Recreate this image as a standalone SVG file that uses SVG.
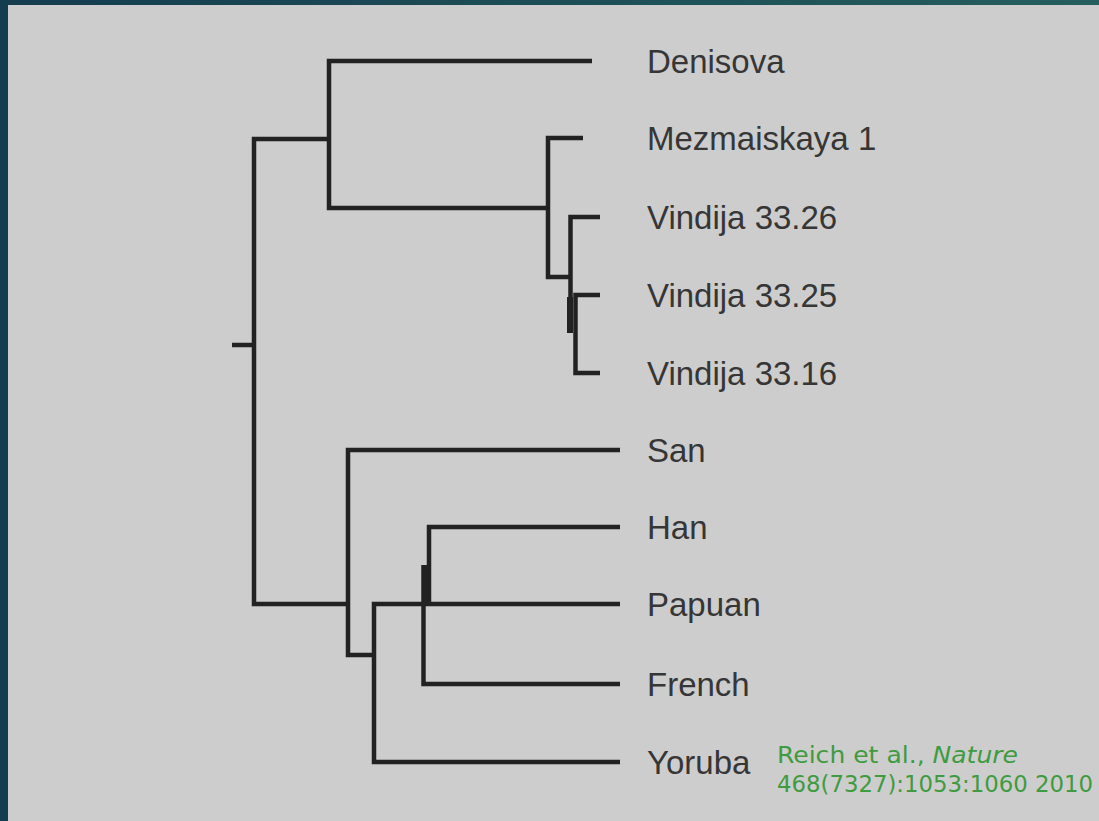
<svg xmlns="http://www.w3.org/2000/svg" width="1099" height="821" viewBox="0 0 1099 821">
<defs>
<linearGradient id="frame" x1="0" y1="0" x2="1" y2="0">
<stop offset="0" stop-color="#143d4f"/>
<stop offset="1" stop-color="#265e5e"/>
</linearGradient>
<style>
.br{fill:none;stroke:#222;stroke-width:4.5;stroke-linecap:butt;stroke-linejoin:miter}
.lbl{font-family:"Liberation Sans",Arial,sans-serif;font-size:33px;fill:#363636}
.ref{font-family:"DejaVu Sans",Verdana,sans-serif;font-size:23px;fill:#3f9b3f}
</style>
</defs>
<rect x="0" y="0" width="1099" height="821" fill="url(#frame)"/>
<rect x="8" y="5" width="1091" height="816" fill="#cdcdcd"/>
<g id="connectors">
<path class="br" d="M232 345 H254"/>
<path class="br" d="M329 139 H254 V604 H348"/>
<path class="br" d="M592 61 H329 V208 H548"/>
<path class="br" d="M583 138 H548 V277 H571"/>
<path class="br" d="M600 217 H570.5 V333"/>
<path class="br" d="M600 295 H575.5 V373 H600"/>
<path class="br" d="M570 297 V333" style="stroke-width:6"/>
<path class="br" d="M620 450 H348 V655 H374"/>
<path class="br" d="M620 762 H374 V604 H620"/>
<path class="br" d="M620 527 H429 V604"/>
<path class="br" d="M620 684 H423.5 V565"/>
<path class="br" d="M426 565 V604" style="stroke-width:6"/>
</g>
<g id="node-denisova"><text class="lbl" x="647" y="73">Denisova</text></g>
<g id="node-mezmaiskaya"><text class="lbl" x="647" y="150">Mezmaiskaya 1</text></g>
<g id="node-vindija3326"><text class="lbl" x="647" y="229">Vindija 33.26</text></g>
<g id="node-vindija3325"><text class="lbl" x="647" y="307">Vindija 33.25</text></g>
<g id="node-vindija3316"><text class="lbl" x="647" y="385">Vindija 33.16</text></g>
<g id="node-san"><text class="lbl" x="647" y="462">San</text></g>
<g id="node-han"><text class="lbl" x="647" y="539">Han</text></g>
<g id="node-papuan"><text class="lbl" x="647" y="616">Papuan</text></g>
<g id="node-french"><text class="lbl" x="647" y="696">French</text></g>
<g id="node-yoruba"><text class="lbl" x="647" y="774">Yoruba</text></g>
<g id="citation">
<text class="ref" x="777" y="763" textLength="241" lengthAdjust="spacingAndGlyphs">Reich et al., <tspan font-style="italic">Nature</tspan></text>
<text class="ref" x="777" y="792" textLength="316" lengthAdjust="spacingAndGlyphs">468(7327):1053:1060 2010</text>
</g>
</svg>
